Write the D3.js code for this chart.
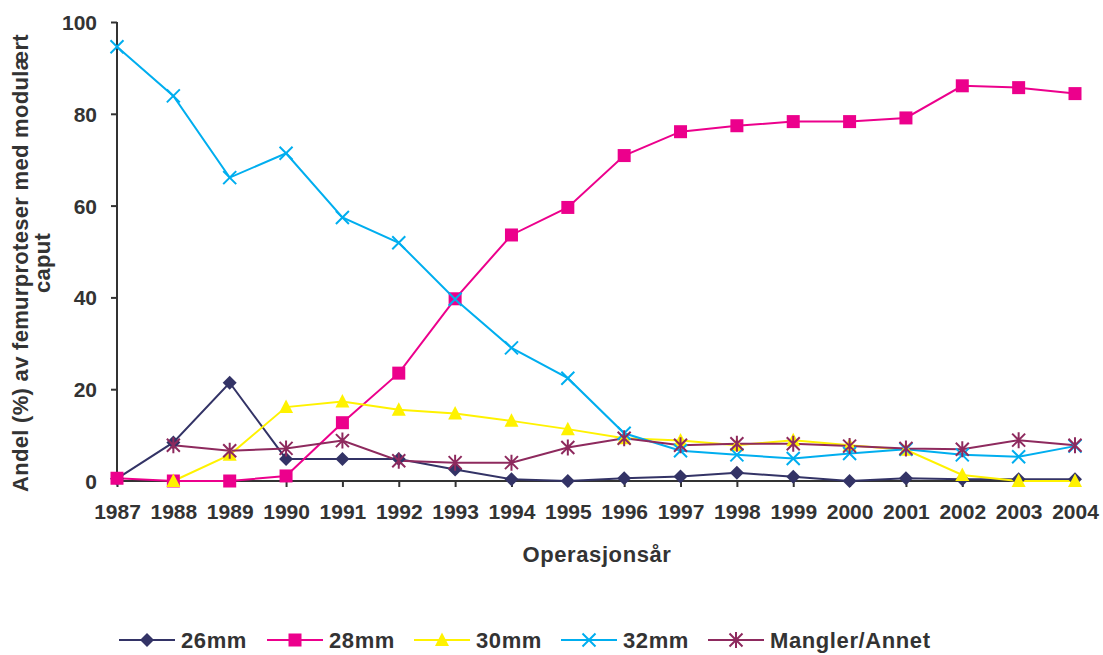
<!DOCTYPE html>
<meta charset="utf-8">
<style>
    body { margin: 0; background: #fff; }
    text { font-family: Arial, "Liberation Sans", Helvetica, sans-serif; font-weight: bold; fill: #333; }
    .tick text { font-size: 21px; }
    .axis path, .axis line { stroke: #333; stroke-width: 2px; }
</style>
<body>
<svg width="1103" height="655"></svg>
</body>
<script src="https://d3js.org/d3.v7.min.js"></script>
<script>
    // years on the x axis
    var years = [1987, 1988, 1989, 1990, 1991, 1992, 1993, 1994, 1995, 1996, 1997, 1998, 1999, 2000, 2001, 2002, 2003, 2004];

    // shares (%), null = no point that year
    var mm26 = [0.5, 8.4, 21.4, 4.8, 4.8, 4.8, 2.5, 0.4, 0, 0.6, 1.0, 1.8, 0.9, 0, 0.6, 0.4, 0.4, 0.4];
    var mm28 = [0.6, 0, 0, 1.1, 12.7, 23.5, 39.7, 53.6, 59.6, 70.9, 76.1, 77.4, 78.3, 78.3, 79.1, 86.1, 85.7, 84.4];
    var mm30 = [null, 0, 5.7, 16.1, 17.3, 15.5, 14.7, 13.1, 11.3, 9.3, 8.8, 7.8, 8.9, 7.8, 6.8, 1.3, 0, 0];
    var mm32 = [94.6, 83.9, 66.1, 71.4, 57.4, 51.9, 39.6, 29.0, 22.4, 10.4, 6.6, 5.7, 4.9, 6.0, 6.9, 5.7, 5.3, 7.6];
    var annet = [null, 7.8, 6.6, 7.1, 8.8, 4.4, 4.0, 4.0, 7.3, 9.3, 7.8, 8.1, 8.1, 7.6, 7.1, 6.9, 8.9, 7.8];

    var yTicks = [0, 20, 40, 60, 80, 100];

    var series = [
        {name: "26mm", values: mm26, color: "#333366", marker: "diamond"},
        {name: "28mm", values: mm28, color: "#ec008c", marker: "square"},
        {name: "30mm", values: mm30, color: "#fff200", marker: "triangle"},
        {name: "32mm", values: mm32, color: "#00aeef", marker: "cross"},
        {name: "Mangler/Annet", values: annet, color: "#8e2a5e", marker: "star"}
    ];

    var svg = d3.select("svg");
    var plotLeft = 117, plotRight = 1075, plotTop = 22, plotBottom = 481;

    var x = d3.scalePoint().domain(years).range([plotLeft, plotRight]);
    var y = d3.scaleLinear().domain([0, 100]).range([plotBottom, plotTop]);

    // y axis
    var yAxis = svg.append("g")
        .attr("class", "axis")
        .attr("transform", "translate(" + plotLeft + ",0)")
        .call(d3.axisLeft(y).tickValues(yTicks).tickSize(6).tickPadding(14));
    yAxis.select(".domain").attr("d", "M0," + plotTop + "V" + plotBottom);
    yAxis.selectAll(".tick text").attr("dy", "0.36em");

    // x axis
    var xAxis = svg.append("g")
        .attr("class", "axis")
        .attr("transform", "translate(0," + plotBottom + ")")
        .call(d3.axisBottom(x).tickSize(6));
    xAxis.select(".domain").attr("d", "M" + plotLeft + ",0H" + plotRight);
    xAxis.selectAll(".tick text").attr("y", 38).attr("dy", 0);

    // titles
    svg.append("text")
        .attr("x", 597).attr("y", 562)
        .attr("text-anchor", "middle")
        .style("font-size", "22px")
        .style("letter-spacing", "0.6px")
        .text("Operasjonsår");

    var yt = svg.append("text")
        .attr("transform", "translate(28,263) rotate(-90)")
        .attr("text-anchor", "middle")
        .style("font-size", "22px")
        .style("letter-spacing", "0.3px");
    yt.append("tspan").attr("x", 0).attr("dy", 0).text("Andel (%) av femurproteser med modulært");
    yt.append("tspan").attr("x", 0).attr("dy", 22).text("caput");

    function drawMarker(g, type, color) {
        if (type === "diamond") {
            g.append("path").attr("d", "M0,-7L7,0L0,7L-7,0Z").attr("fill", color);
        } else if (type === "square") {
            g.append("rect").attr("x", -6.5).attr("y", -6.5).attr("width", 13).attr("height", 13).attr("fill", color);
        } else if (type === "triangle") {
            g.append("path").attr("d", "M0,-7.5L7,6L-7,6Z").attr("fill", color);
        } else if (type === "cross") {
            g.append("path").attr("d", "M-6.5,-6.5L6.5,6.5M-6.5,6.5L6.5,-6.5").attr("stroke", color).attr("stroke-width", 2);
        } else if (type === "star") {
            g.append("path").attr("d", "M-6.5,-6.5L6.5,6.5M-6.5,6.5L6.5,-6.5M0,-8V8").attr("stroke", color).attr("stroke-width", 2);
        }
    }

    var line = d3.line()
        .defined(function (d) { return d !== null; })
        .x(function (d, i) { return x(years[i]); })
        .y(function (d) { return y(d); });

    series.forEach(function (s) {
        svg.append("path")
            .attr("d", line(s.values))
            .attr("fill", "none")
            .attr("stroke", s.color)
            .attr("stroke-width", 2);
    });

    series.forEach(function (s) {
        s.values.forEach(function (v, i) {
            if (v === null) return;
            var g = svg.append("g").attr("transform", "translate(" + x(years[i]) + "," + y(v) + ")");
            drawMarker(g, s.marker, s.color);
        });
    });

    // legend
    var legendX = [119, 267, 414, 561, 708];
    series.forEach(function (s, i) {
        var lg = svg.append("g").attr("transform", "translate(" + legendX[i] + ",640)");
        lg.append("line").attr("x1", 0).attr("x2", 56).attr("stroke", s.color).attr("stroke-width", 2);
        var m = lg.append("g").attr("transform", "translate(28,0)");
        drawMarker(m, s.marker, s.color);
        lg.append("text")
            .attr("x", 62).attr("y", 8)
            .style("font-size", "22px")
            .style("letter-spacing", "0.6px")
            .text(s.name);
    });
</script>
